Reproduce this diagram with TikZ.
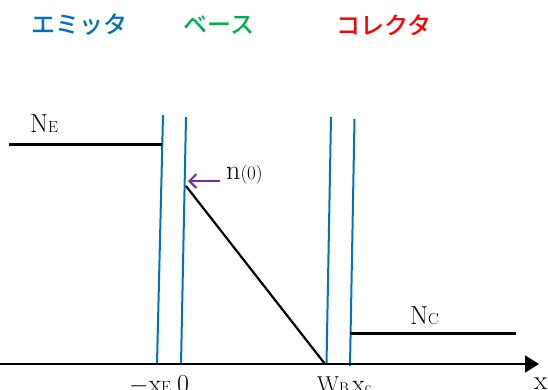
\documentclass[tikz,border=0pt]{standalone}
\usepackage{fontspec}
\newfontfamily\jpfont{Noto Sans CJK JP Medium}
\usetikzlibrary{arrows.meta}
\definecolor{emblue}{RGB}{0,112,192}
\definecolor{bagreen}{RGB}{0,176,80}
\definecolor{cored}{RGB}{255,0,0}
\definecolor{linblue}{RGB}{0,114,198}
\definecolor{arpurple}{RGB}{112,48,160}
\newcommand{\bigtxt}{\fontsize{26}{26}\selectfont}
\newcommand{\subtxt}{\fontsize{16}{16}\selectfont}
\tikzset{
  jplabel/.style={font=\jpfont\fontsize{24}{24}\selectfont, inner sep=0pt, anchor=center},
  blueline/.style={draw=linblue, line width=2pt},
  blackline/.style={draw=black, line width=2.2pt},
  lbl/.style={inner sep=0pt, anchor=base west},
}
\begin{document}
\begin{tikzpicture}[x=1pt,y=-1pt]
\useasboundingbox (0,0) rectangle (548,389);
\clip (0,0) rectangle (548,389);
% headings
\node[jplabel, text=emblue] (em) at (79,25) {エミッタ};
\node[jplabel, text=bagreen] (ba) at (219,25) {ベース};
\node[jplabel, text=cored] (co) at (384,25) {コレクタ};
% blue boundary lines
\coordinate (b1t) at (163,115); \coordinate (b1b) at (157,364);
\coordinate (b2t) at (186,117); \coordinate (b2b) at (181,364);
\coordinate (b3t) at (331,117); \coordinate (b3b) at (326.5,364);
\coordinate (b4t) at (354.5,119); \coordinate (b4b) at (350,366);
\draw[blueline] (b1t) -- (b1b);
\draw[blueline] (b2t) -- (b2b);
\draw[blueline] (b3t) -- (b3b);
\draw[blueline] (b4t) -- (b4b);
% levels
\coordinate (ne1) at (9,144.5); \coordinate (ne2) at (162,144.5);
\draw[blackline] (ne1) -- (ne2);
\coordinate (d1) at (186,186); \coordinate (d2) at (325,364);
\draw[blackline] (d1) -- (d2);
\coordinate (nc1) at (350,333.5); \coordinate (nc2) at (516,333.5);
\draw[blackline] (nc1) -- (nc2);
% axis
\coordinate (ax0) at (0,364); \coordinate (ax1) at (539,364);
\draw[blackline, -{Triangle[length=14pt,width=17pt]}] (ax0) -- (ax1);
% n(0) arrow
\coordinate (p1) at (220,181); \coordinate (p2) at (188,181);
\draw[draw=arpurple, line width=2pt, -{Straight Barb[length=7pt,width=14pt]}] (p1) -- (p2);
% labels
\node[lbl] (lne) at (30,132) {\bigtxt N\subtxt E};
\node[lbl] (lnc) at (410,324) {\bigtxt N\subtxt C};
\node[lbl] (ln0) at (226,179) {\fontsize{28}{28}\selectfont n\fontsize{19}{19}\selectfont(0)};
\node[lbl] (lxe) at (129,392) {\bigtxt $-$x\subtxt E};
\node[lbl] (l0) at (177,392) {\bigtxt 0};
\node[lbl] (lwb) at (317,392) {\fontsize{23}{23}\selectfont W\fontsize{14}{14}\selectfont B};
\node[lbl] (lxc) at (352,392) {\bigtxt x\subtxt c};
\node[lbl] (lx) at (534,389) {\fontsize{27}{27}\selectfont x};
\end{tikzpicture}
\end{document}
